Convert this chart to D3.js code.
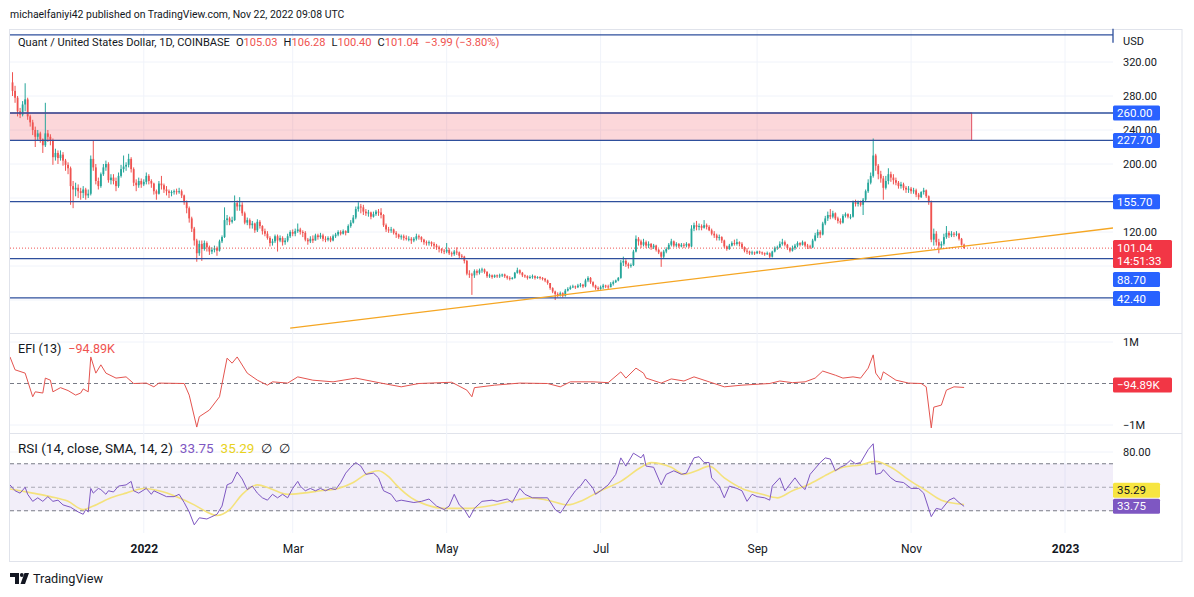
<!DOCTYPE html>
<html>
<head>
<meta charset="utf-8">
<script src="https://cdn.jsdelivr.net/npm/d3@7"></script>
<style>
    body { margin: 0; background: #fff; }
    svg text { font-family: Roboto, "Noto Sans", sans-serif; }
</style>
</head>
<body>
<svg id="chart" width="1194" height="597"></svg>
<script>
// ---- data (QNT/USD daily, first candle 2021-11-10) ----
const firstOpen = 296;
const closes = [
    286, 278, 262, 258, 270, 276, 256, 249, 240, 232,
    236, 229, 222, 236, 232, 228, 208, 213, 207, 211,
    204, 199, 195, 174, 170, 172, 168, 166, 170, 163,
    165, 206, 196, 180, 174, 188, 196, 200, 181, 184,
    180, 174, 186, 194, 197, 199, 206, 194, 178, 175,
    180, 176, 179, 186, 180, 177, 168, 165, 177, 175,
    170, 168, 166, 167, 168, 167, 168, 163, 155, 148,
    136, 124, 110, 95, 106, 100, 107, 102, 97, 99,
    101, 98, 109, 114, 134, 136, 132, 134, 154, 150,
    152, 142, 131, 134, 128, 130, 122, 132, 127, 121,
    118, 113, 107, 109, 115, 110, 113, 108, 110, 115,
    120, 118, 121, 123, 120, 119, 111, 109, 112, 110,
    116, 114, 116, 112, 111, 113, 110, 115, 117, 120,
    118, 121, 119, 127, 131, 137, 147, 150, 149, 144,
    142, 143, 138, 141, 144, 143, 140, 128, 123, 122,
    123, 119, 117, 114, 115, 113, 112, 112, 110, 112,
    115, 114, 111, 108, 107, 108, 106, 104, 102, 100,
    98, 97, 99, 95, 94, 97, 96, 92, 91, 86,
    71, 70, 69, 74, 72, 75, 76, 73, 68, 69,
    67, 69, 68, 69, 70, 68, 66, 65, 66, 72,
    75, 72, 69, 68, 66, 67, 68, 66, 67, 66,
    65, 63, 60, 54, 50, 47, 46, 48, 45, 51,
    53, 55, 56, 55, 57, 58, 56, 63, 66, 61,
    57, 54, 53, 55, 57, 56, 55, 59, 61, 63,
    66, 84, 86, 82, 80, 81, 97, 112, 109, 105,
    108, 104, 106, 102, 104, 99, 96, 91, 97, 100,
    105, 109, 104, 106, 103, 105, 104, 106, 103, 124,
    128, 126, 127, 125, 128, 126, 122, 118, 116, 113,
    114, 110, 103, 100, 104, 107, 106, 108, 106, 102,
    98, 97, 95, 96, 95, 97, 96, 95, 94, 95,
    91, 97, 101, 102, 106, 108, 105, 101, 98, 101,
    104, 107, 105, 108, 104, 103, 102, 110, 116, 120,
    117, 130, 136, 140, 138, 142, 136, 133, 131, 139,
    141, 138, 138, 155, 153, 155, 152, 158, 168, 178,
    186, 210, 198, 188, 183, 172, 180, 188, 184, 181,
    178, 174, 176, 172, 170, 171, 168, 169, 164, 161,
    167, 169, 162, 155, 111, 118, 108, 104, 106, 114,
    119, 116, 118, 117, 118, 112, 105.03, 101.04
];
const highs = [
    308, 292, 280, 266, 274, 295, 278, 258, 252, 244,
    240, 238, 230, 272, 240, 235, 230, 218, 216, 216,
    214, 206, 202, 197, 180, 178, 176, 172, 174, 172,
    170, 210, 228, 200, 184, 190, 200, 204, 202, 188,
    188, 184, 190, 199, 210, 202, 212, 208, 196, 182,
    184, 183, 182, 190, 188, 182, 178, 170, 180, 186,
    177, 174, 170, 169, 170, 171, 172, 170, 164, 157,
    150, 138, 126, 112, 110, 110, 110, 109, 104, 102,
    104, 103, 111, 116, 149, 140, 138, 138, 163, 157,
    161, 155, 144, 137, 136, 133, 131, 135, 134, 128,
    124, 121, 115, 112, 117, 117, 116, 115, 113, 118,
    122, 123, 124, 130, 125, 122, 121, 113, 115, 116,
    118, 118, 119, 118, 115, 115, 115, 117, 119, 122,
    122, 123, 122, 129, 134, 140, 150, 155, 153, 152,
    147, 146, 144, 144, 146, 147, 148, 141, 130, 126,
    126, 124, 121, 118, 117, 117, 116, 115, 114, 114,
    118, 117, 115, 112, 110, 110, 109, 108, 106, 104,
    101, 100, 107, 101, 97, 99, 102, 97, 94, 92,
    87, 75, 72, 76, 76, 77, 78, 77, 74, 71,
    70, 70, 70, 71, 71, 71, 69, 68, 67, 73,
    78, 76, 73, 70, 69, 69, 70, 69, 68, 68,
    67, 66, 64, 60, 55, 51, 49, 50, 49, 53,
    55, 57, 58, 57, 59, 60, 59, 65, 68, 67,
    62, 58, 56, 57, 59, 58, 58, 61, 63, 64,
    67, 87, 91, 88, 84, 83, 99, 116, 114, 111,
    112, 110, 109, 107, 106, 105, 100, 97, 99, 102,
    107, 112, 110, 108, 107, 107, 107, 108, 107, 128,
    131, 133, 130, 129, 134, 130, 128, 124, 121, 118,
    117, 115, 111, 104, 106, 109, 111, 112, 109, 108,
    103, 101, 98, 98, 97, 98, 98, 97, 96, 97,
    96, 98, 103, 104, 109, 112, 110, 106, 102, 104,
    106, 109, 108, 110, 109, 106, 105, 112, 119, 123,
    122, 132, 139, 144, 147, 145, 143, 138, 136, 141,
    143, 142, 141, 157, 158, 157, 157, 160, 170, 182,
    190, 230, 212, 200, 192, 186, 186, 195, 191, 188,
    184, 180, 179, 178, 174, 174, 173, 172, 171, 166,
    168, 172, 170, 163, 157, 124, 121, 112, 109, 118,
    127, 121, 121, 120, 121, 119, 113, 106.28
];
const lows = [
    280, 272, 256, 254, 256, 262, 252, 244, 234, 220,
    228, 225, 213, 220, 226, 222, 199, 204, 200, 204,
    198, 192, 188, 152, 148, 162, 160, 158, 160, 158,
    160, 163, 192, 176, 170, 172, 186, 192, 178, 176,
    176, 168, 172, 184, 190, 192, 196, 190, 174, 168,
    172, 172, 174, 176, 176, 172, 164, 158, 164, 170,
    166, 163, 160, 162, 164, 164, 165, 160, 152, 142,
    131, 120, 104, 85, 92, 86, 98, 97, 93, 94,
    96, 92, 97, 107, 113, 128, 128, 130, 133, 145,
    145, 139, 129, 128, 124, 124, 119, 120, 124, 117,
    115, 111, 103, 104, 107, 97, 108, 104, 105, 108,
    113, 115, 115, 119, 117, 114, 109, 105, 107, 107,
    110, 111, 112, 109, 108, 109, 108, 109, 113, 115,
    116, 117, 116, 119, 125, 130, 135, 144, 142, 140,
    139, 138, 135, 137, 139, 139, 136, 126, 120, 119,
    119, 117, 113, 112, 111, 110, 110, 109, 106, 108,
    110, 111, 108, 105, 104, 104, 103, 100, 99, 96,
    95, 94, 95, 93, 91, 92, 93, 89, 88, 83,
    69, 66, 46, 66, 69, 70, 72, 71, 66, 66,
    65, 66, 66, 66, 67, 66, 64, 63, 64, 65,
    71, 70, 67, 66, 64, 65, 65, 64, 65, 64,
    63, 61, 58, 52, 48, 40, 43, 44, 43, 44,
    50, 52, 54, 53, 54, 55, 54, 55, 61, 59,
    55, 52, 51, 52, 53, 54, 53, 55, 57, 60,
    62, 65, 80, 79, 77, 78, 80, 96, 104, 101,
    103, 101, 101, 99, 100, 97, 94, 79, 89, 95,
    99, 103, 102, 102, 101, 102, 101, 102, 101, 102,
    121, 122, 122, 122, 124, 123, 121, 116, 113, 110,
    110, 107, 101, 98, 99, 103, 104, 104, 103, 100,
    96, 94, 93, 93, 93, 94, 94, 93, 92, 93,
    89, 90, 96, 99, 101, 104, 103, 99, 96, 97,
    99, 102, 103, 104, 102, 100, 100, 101, 109, 113,
    113, 116, 128, 133, 135, 136, 134, 130, 129, 130,
    137, 136, 135, 137, 150, 150, 150, 140, 156, 166,
    176, 184, 192, 182, 178, 158, 170, 176, 179, 176,
    175, 171, 171, 169, 166, 166, 165, 165, 161, 158,
    160, 164, 160, 152, 108, 104, 104, 95, 100, 104,
    112, 113, 114, 114, 115, 110, 104, 100.40
];

// EFI (13), millions, at day offsets from the first candle
const efiDays = [
    -1, 1, 5, 8, 9, 12, 13, 15, 16, 19,
    22, 25, 27, 28, 30, 31, 33, 35, 37, 41,
    45, 48, 53, 56, 58, 68, 70, 73, 74, 78,
    82, 85, 87, 89, 93, 97, 101, 103, 109, 113,
    119, 127, 136, 146, 154, 161, 174, 180, 182, 183,
    191, 201, 212, 217, 221, 230, 236, 241, 243, 247,
    250, 251, 257, 261, 266, 270, 276, 282, 289, 300,
    304, 309, 314, 318, 321, 326, 329, 333, 336, 339,
    341, 342, 344, 345, 350, 355, 360, 362, 364, 365,
    368, 370, 373, 377
];
const efiMillions = [
    0.64, 0.33, 0.25, -0.32, -0.2, -0.23, 0.13, 0.08, -0.2, -0.1,
    -0.17, -0.28, -0.23, -0.13, -0.2, 0.64, 0.25, 0.45, 0.25, 0.13,
    0.16, 0, 0.01, -0.08, 0.01, 0, -0.28, -1.05, -0.8, -0.64,
    -0.32, 0.61, 0.49, 0.64, 0.25, 0.08, -0.04, 0.04, 0.01, 0.16,
    0.08, 0.04, 0.13, 0.01, -0.08, 0, 0.03, -0.16, -0.32, -0.1,
    -0.04, 0.01, 0, -0.08, 0.04, 0.04, 0.02, 0.28, 0.13, 0.37,
    0.25, 0.13, 0.01, 0.11, 0.06, 0.16, 0.04, -0.08, -0.04, 0,
    0.06, 0.02, 0.04, 0.13, 0.3, 0.2, 0.13, 0.16, 0.13, 0.37,
    0.69, 0.25, 0.08, 0.28, 0.08, 0.01, 0, -0.08, -1.07, -0.57,
    -0.52, -0.16, -0.08, -0.0949
];

// RSI (14) and its SMA (14)
const rsiDays = [
    -1, 1, 3, 5, 6, 8, 10, 12, 14, 16,
    18, 20, 23, 26, 28, 29, 30, 31, 32, 34,
    35, 37, 38, 40, 42, 45, 47, 48, 50, 53,
    55, 56, 58, 61, 64, 66, 68, 70, 72, 74,
    77, 79, 81, 83, 85, 87, 89, 91, 93, 95,
    97, 99, 101, 103, 105, 107, 109, 111, 113, 114,
    116, 118, 120, 122, 124, 126, 128, 130, 132, 134,
    136, 138, 140, 143, 145, 147, 150, 152, 154, 159,
    162, 165, 168, 171, 173, 175, 177, 179, 181, 183,
    186, 190, 192, 196, 198, 201, 203, 206, 209, 212,
    215, 217, 218, 221, 223, 225, 227, 230, 231, 233,
    236, 239, 241, 243, 246, 249, 250, 251, 254, 257,
    259, 262, 265, 267, 270, 272, 274, 276, 277, 280,
    282, 284, 287, 289, 291, 293, 295, 298, 300, 301,
    304, 306, 310, 312, 314, 316, 320, 322, 324, 326,
    328, 330, 332, 334, 336, 339, 341, 342, 344, 345,
    348, 350, 353, 356, 359, 361, 364, 366, 368, 371,
    373, 375, 377
];
const rsiValues = [
    52, 47, 45, 50, 44, 38, 41, 38, 42, 38,
    39, 35, 33, 29, 27, 31, 29, 49, 45, 49,
    48, 44, 47, 46, 51, 52, 55, 47, 45, 49,
    44, 47, 45, 42, 42, 44, 37, 29, 18, 24,
    23, 25, 27, 34, 52, 54, 63, 57, 48, 51,
    45, 41, 39, 44, 41, 44, 41, 49, 55, 51,
    47, 49, 47, 49, 47, 49, 48, 54, 62, 67,
    71, 68, 61, 62, 58, 47, 44, 38, 39, 37,
    38, 40, 34, 31, 34, 44, 35, 31, 24, 32,
    38, 39, 38, 40, 37, 49, 44, 41, 41, 41,
    31, 28, 31, 41, 47, 51, 57, 49, 44, 47,
    52, 61, 75, 68, 79, 75, 78, 68, 67, 52,
    61, 64, 61, 62, 75, 76, 71, 71, 58, 51,
    41, 51, 49, 47, 38, 44, 42, 41, 39, 51,
    58, 47, 58, 52, 48, 61, 71, 75, 74, 64,
    67, 69, 73, 70, 71, 82, 87, 61, 62, 65,
    58, 55, 54, 49, 49, 45, 25, 32, 31, 39,
    41, 37, 33.75
];
const maDays = [
    -5, 3, 8, 15, 22, 28, 32, 39, 45, 52,
    58, 65, 72, 77, 81, 86, 91, 97, 102, 109,
    115, 122, 129, 135, 140, 145, 149, 152, 158, 164,
    171, 180, 191, 199, 206, 212, 220, 226, 233, 241,
    249, 253, 261, 266, 271, 276, 282, 289, 297, 303,
    309, 315, 323, 329, 336, 342, 348, 356, 362, 368,
    377
];
const maValues = [
    50, 47, 45, 42, 38, 31, 34, 41, 45, 49,
    47, 42, 35, 29, 26, 31, 44, 52, 49, 44,
    45, 47, 49, 54, 61, 64, 59, 52, 41, 35,
    32, 32, 35, 39, 41, 39, 35, 39, 47, 55,
    67, 71, 67, 61, 64, 68, 58, 49, 44, 41,
    47, 52, 61, 67, 69, 72, 67, 55, 47, 39,
    35.29
];

// drawings on the chart
const levelPrices = [352, 260, 227.7, 155.7, 88.7, 42.4];
const taggedLevels = [260, 227.7, 155.7, 88.7, 42.4];
const zone = { from: '2021-11-01', to: '2022-11-25', top: 260, bottom: 227.7 };
const trendDates = ['2022-02-28', '2023-01-20'];
const trendPrices = [7, 124.7];
const timeTicks = ['2022-01-01', '2022-03-01', '2022-05-01', '2022-07-01', '2022-09-01', '2022-11-01', '2023-01-01'];
const priceTicks = [40, 80, 120, 160, 200, 240, 280, 320];

// ---- layout ----
const L = 10, R = 1113, FR = 1182;
const panes = { price: [30, 333], efi: [334, 433], rsi: [434, 533] };
const up = '#26a69a', down = '#ef5350', blue = '#2962ff', ink = '#131722';

const utc = s => new Date(s + 'T00:00:00Z');
const dayDate = k => new Date(Date.UTC(2021, 10, 10 + k));

const x = d3.scaleUtc().domain([utc('2021-11-09'), utc('2023-01-20')]).range([L, R]);
const yPrice = d3.scaleLinear().domain([0, 360]).range([334, 28]);
const yEfi = d3.scaleLinear().domain([-1, 1]).range([425, 342]);
const yRsi = d3.scaleLinear().domain([0, 100]).range([546, 428.5]);

const svg = d3.select('#chart');
const defs = svg.append('defs');
Object.entries(panes).forEach(([id, [t, b]]) => {
    defs.append('clipPath').attr('id', 'clip-' + id)
        .append('rect').attr('x', L).attr('y', t).attr('width', R - L).attr('height', b - t);
});

// frame + pane separators
svg.append('rect').attr('x', 9.5).attr('y', 29.5).attr('width', FR - 9.5).attr('height', 532)
    .attr('fill', 'none').attr('stroke', '#e0e3eb');
[333.5, 433.5].forEach(yy => {
    svg.append('line').attr('x1', L).attr('x2', FR).attr('y1', yy).attr('y2', yy).attr('stroke', '#e0e3eb');
});

// grid
const grid = svg.append('g').attr('stroke', '#f0f3fa');
timeTicks.forEach(t => {
    grid.append('line').attr('x1', x(utc(t))).attr('x2', x(utc(t))).attr('y1', 30).attr('y2', 533);
});
priceTicks.forEach(p => {
    grid.append('line').attr('x1', L).attr('x2', R).attr('y1', yPrice(p)).attr('y2', yPrice(p));
});
[-1, 1].forEach(v => {
    grid.append('line').attr('x1', L).attr('x2', R).attr('y1', yEfi(v)).attr('y2', yEfi(v));
});
grid.append('line').attr('x1', L).attr('x2', R).attr('y1', yRsi(80)).attr('y2', yRsi(80));

// ---- price pane ----
const pricePane = svg.append('g').attr('clip-path', 'url(#clip-price)');

pricePane.append('rect')
    .attr('x', x(utc(zone.from))).attr('y', yPrice(zone.top))
    .attr('width', x(utc(zone.to)) - x(utc(zone.from)))
    .attr('height', yPrice(zone.bottom) - yPrice(zone.top))
    .attr('fill', 'rgba(242,54,69,0.2)');

const candles = closes.map((c, k) => {
    const o = k === 0 ? firstOpen : closes[k - 1];
    return { date: dayDate(k), o, c, h: Math.max(highs[k], o, c), l: Math.min(lows[k], o, c) };
});

const candle = pricePane.append('g').selectAll('g').data(candles).enter().append('g')
    .attr('fill', d => d.c >= d.o ? up : down)
    .attr('stroke', d => d.c >= d.o ? up : down);
candle.append('line')
    .attr('x1', d => x(d.date)).attr('x2', d => x(d.date))
    .attr('y1', d => yPrice(d.h)).attr('y2', d => yPrice(d.l))
    .attr('stroke-width', 1);
candle.append('rect')
    .attr('x', d => x(d.date) - 0.9).attr('width', 1.8)
    .attr('y', d => yPrice(Math.max(d.o, d.c)))
    .attr('height', d => Math.max(1, Math.abs(yPrice(d.o) - yPrice(d.c))))
    .attr('stroke', 'none');

// zone border
pricePane.append('rect')
    .attr('x', x(utc(zone.from))).attr('y', yPrice(zone.top))
    .attr('width', x(utc(zone.to)) - x(utc(zone.from)))
    .attr('height', yPrice(zone.bottom) - yPrice(zone.top))
    .attr('fill', 'none').attr('stroke', '#e05060').attr('stroke-width', 1);

// horizontal levels
levelPrices.forEach(p => {
    pricePane.append('line').attr('x1', L).attr('x2', R).attr('y1', yPrice(p)).attr('y2', yPrice(p))
        .attr('stroke', '#2e4f9c').attr('stroke-width', 1.3);
});
svg.append('line').attr('x1', R).attr('x2', R)
    .attr('y1', yPrice(levelPrices[0]) - 6).attr('y2', yPrice(levelPrices[0]) + 8)
    .attr('stroke', '#2e4f9c').attr('stroke-width', 1.3);

// trend line
pricePane.append('line')
    .attr('x1', x(utc(trendDates[0]))).attr('y1', yPrice(trendPrices[0]))
    .attr('x2', x(utc(trendDates[1]))).attr('y2', yPrice(trendPrices[1]))
    .attr('stroke', '#f5a623').attr('stroke-width', 1.3);

// last price line
const lastClose = closes[closes.length - 1];
pricePane.append('line').attr('x1', L).attr('x2', R)
    .attr('y1', yPrice(lastClose)).attr('y2', yPrice(lastClose))
    .attr('stroke', down).attr('stroke-dasharray', '1,2');

// ---- EFI pane ----
const efiPane = svg.append('g').attr('clip-path', 'url(#clip-efi)');
efiPane.append('line').attr('x1', L).attr('x2', R).attr('y1', yEfi(0)).attr('y2', yEfi(0))
    .attr('stroke', '#787b86').attr('stroke-dasharray', '4,3');
efiPane.append('path')
    .datum(efiDays.map((k, i) => [dayDate(k), efiMillions[i]]))
    .attr('fill', 'none').attr('stroke', '#e4544f').attr('stroke-width', 1)
    .attr('d', d3.line().x(d => x(d[0])).y(d => yEfi(d[1])));

// ---- RSI pane ----
const rsiPane = svg.append('g').attr('clip-path', 'url(#clip-rsi)');
rsiPane.append('rect').attr('x', L).attr('width', R - L)
    .attr('y', yRsi(70)).attr('height', yRsi(30) - yRsi(70))
    .attr('fill', 'rgba(126,87,194,0.1)');
[70, 50, 30].forEach(v => {
    rsiPane.append('line').attr('x1', L).attr('x2', R).attr('y1', yRsi(v)).attr('y2', yRsi(v))
        .attr('stroke', '#787b86').attr('stroke-dasharray', '4,3')
        .attr('stroke-opacity', v === 50 ? 0.6 : 1);
});
rsiPane.append('path')
    .datum(maDays.map((k, i) => [dayDate(k), maValues[i]]))
    .attr('fill', 'none').attr('stroke', '#f4e27c').attr('stroke-width', 1.6)
    .attr('d', d3.line().curve(d3.curveMonotoneX).x(d => x(d[0])).y(d => yRsi(d[1])));
rsiPane.append('path')
    .datum(rsiDays.map((k, i) => [dayDate(k), rsiValues[i]]))
    .attr('fill', 'none').attr('stroke', '#7e57c2').attr('stroke-width', 1)
    .attr('d', d3.line().x(d => x(d[0])).y(d => yRsi(d[1])));

// ---- value tags on the scales (computed first so colliding tick labels can be hidden) ----
const countdown = '14:51:33';
const priceTags = taggedLevels.map(p => ({ top: yPrice(p) - 7.5, h: 15, w: 47, fill: blue, lines: [p.toFixed(2)] }))
    .concat([{ top: yPrice(lastClose) - 8, h: 28, w: 59, fill: '#f23645', lines: [lastClose.toFixed(2), countdown] }])
    .sort((a, b) => a.top - b.top);
let prevBottom = -Infinity;
priceTags.forEach(t => {
    if (t.top < prevBottom + 4) t.top = prevBottom + 4;
    prevBottom = t.top + t.h;
});
const hiddenByTag = p => priceTags.some(t => yPrice(p) > t.top - 1 && yPrice(p) < t.top + t.h + 1);

// ---- axes ----
function styleAxis(g) {
    g.select('.domain').remove();
    g.selectAll('text').attr('fill', ink).style('font-size', '11px');
}
svg.append('g').attr('transform', `translate(${R},0)`)
    .call(d3.axisRight(yPrice).tickValues(priceTicks.filter(p => !hiddenByTag(p)))
        .tickSize(0).tickPadding(10).tickFormat(d3.format('.2f')))
    .call(styleAxis);
svg.append('g').attr('transform', `translate(${R},0)`)
    .call(d3.axisRight(yEfi).tickValues([-1, 1]).tickSize(0).tickPadding(10)
        .tickFormat(v => v > 0 ? '1M' : '\u22121M'))
    .call(styleAxis);
svg.append('g').attr('transform', `translate(${R},0)`)
    .call(d3.axisRight(yRsi).tickValues([80]).tickSize(0).tickPadding(10).tickFormat(d3.format('.2f')))
    .call(styleAxis);
svg.append('text').attr('x', R + 10).attr('y', 45).text('USD').attr('fill', ink).style('font-size', '11px');

const monthFmt = d3.utcFormat('%b'), yearFmt = d3.utcFormat('%Y');
svg.append('g').attr('transform', 'translate(0,535)')
    .call(d3.axisBottom(x).tickValues(timeTicks.map(utc)).tickSize(0).tickPadding(9)
        .tickFormat(d => d.getUTCMonth() === 0 ? yearFmt(d) : monthFmt(d)))
    .call(styleAxis)
    .call(g => g.selectAll('text').style('font-size', '12px')
        .style('font-weight', d => d.getUTCMonth() === 0 ? 'bold' : 'normal'));

function tag(top, w, h, fill, lines, color) {
    svg.append('rect').attr('x', R).attr('y', top).attr('width', w).attr('height', h)
        .attr('rx', 1.5).attr('fill', fill);
    lines.forEach((s, i) => {
        svg.append('text').attr('x', R + 4).attr('y', top + 7.5 + i * 13).attr('dy', '0.35em')
            .text(s).attr('fill', color).style('font-size', '11.5px');
    });
}
priceTags.forEach(t => tag(t.top, t.w, t.h, t.fill, t.lines, '#fff'));

const efiLast = efiMillions[efiMillions.length - 1];
tag(yEfi(efiLast) - 10, 59, 15, '#f23645', ['\u221294.89K'], '#fff');

const rsiLast = rsiValues[rsiValues.length - 1], maLast = maValues[maValues.length - 1];
const rsiTop = yRsi(rsiLast) - 7.5;
let maTop = yRsi(maLast) - 7.5;
if (maTop + 15 > rsiTop) maTop = rsiTop - 16;
tag(maTop, 47, 15, '#f7e541', [maLast.toFixed(2)], ink);
tag(rsiTop, 47, 15, '#7e57c2', [rsiLast.toFixed(2)], '#fff');

// ---- texts ----
function fit(sel, width) {
    const w = sel.node().getComputedTextLength();
    const fs = parseFloat(sel.style('font-size'));
    sel.style('font-size', (fs * width / w) + 'px');
}

const header = svg.append('text').attr('x', 10).attr('y', 18).attr('fill', ink).style('font-size', '12px')
    .text('michaelfaniyi42 published on TradingView.com, Nov 22, 2022 09:08 UTC');
fit(header, 335);

const legend = svg.append('text').attr('x', 18).attr('y', 46).attr('fill', ink).style('font-size', '12px');
legend.append('tspan').text('Quant / United States Dollar, 1D, COINBASE');
[['O', '105.03'], ['H', '106.28'], ['L', '100.40'], ['C', '101.04']].forEach(([k, v]) => {
    legend.append('tspan').attr('dx', 6).text(k);
    legend.append('tspan').attr('fill', down).text(v);
});
legend.append('tspan').attr('dx', 6).attr('fill', down).text('\u22123.99 (\u22123.80%)');
fit(legend, 452);

const efiLegend = svg.append('text').attr('x', 18).attr('y', 353).attr('fill', ink).style('font-size', '12px');
efiLegend.append('tspan').text('EFI (13)');
efiLegend.append('tspan').attr('dx', 7).attr('fill', down).text('\u221294.89K');
fit(efiLegend, 90);

const rsiLegend = svg.append('text').attr('x', 18).attr('y', 453).attr('fill', ink).style('font-size', '12px');
rsiLegend.append('tspan').text('RSI (14, close, SMA, 14, 2)');
rsiLegend.append('tspan').attr('dx', 7).attr('fill', '#7e57c2').text(rsiLast.toFixed(2));
rsiLegend.append('tspan').attr('dx', 7).attr('fill', '#e8d21d').text(maLast.toFixed(2));
rsiLegend.append('tspan').attr('dx', 7).text('\u2205');
rsiLegend.append('tspan').attr('dx', 7).text('\u2205');
fit(rsiLegend, 245);

// footer logo
const logo = svg.append('g').attr('fill', ink);
logo.append('path').attr('d', 'M10,573H19V584H15V577H10Z');
logo.append('circle').attr('cx', 21.8).attr('cy', 575).attr('r', 1.9);
logo.append('path').attr('d', 'M24.5,573H29L25,584H20.5Z');
const footer = svg.append('text').attr('x', 33).attr('y', 583).attr('fill', ink).style('font-size', '13px')
    .text('TradingView');
fit(footer, 70);
</script>
</body>
</html>
